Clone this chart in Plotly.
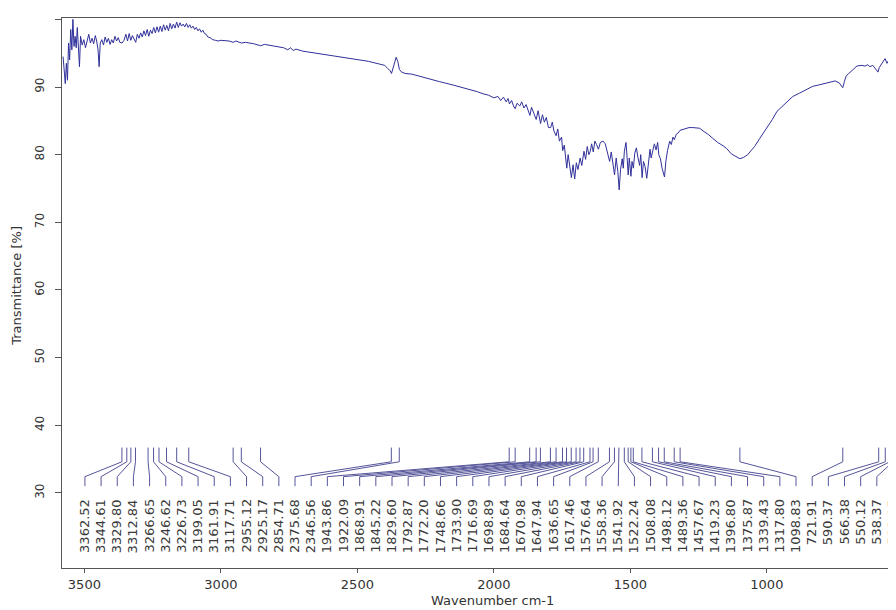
import plotly.graph_objects as go
import numpy as np

# ---- spectrum (wavenumber cm-1, transmittance %) ----
wavenumber = [3578, 3574, 3570, 3566, 3562, 3558, 3554, 3550, 3546, 3542, 3538, 3534, 3530, 3526, 3522, 3518, 3514,
              3508, 3502, 3496, 3490, 3484, 3478, 3472, 3466, 3460, 3455, 3450, 3446, 3442, 3436, 3430, 3424, 3418,
              3412, 3406, 3400, 3394, 3388, 3382, 3376, 3370, 3362, 3355, 3348, 3342, 3336, 3330, 3324, 3318, 3312,
              3306, 3300, 3294, 3288, 3282, 3276, 3270, 3264, 3258, 3252, 3246, 3240, 3234, 3228, 3222, 3216, 3210,
              3204, 3198, 3192, 3186, 3180, 3174, 3168, 3162, 3156, 3150, 3144, 3138, 3132, 3126, 3120, 3114, 3108,
              3102, 3096, 3090, 3084, 3078, 3072, 3066, 3060, 3054, 3048, 3040, 3030, 3020, 3010, 3000, 2990, 2970,
              2955, 2945, 2925, 2910, 2880, 2854, 2840, 2800, 2770, 2755, 2745, 2735, 2725, 2700, 2650, 2600, 2550,
              2500, 2460, 2420, 2400, 2390, 2380, 2375, 2366, 2358, 2352, 2346, 2338, 2325, 2300, 2250, 2200, 2150,
              2100, 2060, 2040, 2020, 2000, 1985, 1975, 1965, 1955, 1948, 1943, 1935, 1928, 1922, 1915, 1905, 1898,
              1890, 1882, 1875, 1868, 1862, 1855, 1845, 1838, 1829, 1822, 1815, 1808, 1800, 1792, 1786, 1780, 1772,
              1766, 1760, 1752, 1748, 1742, 1736, 1733, 1728, 1722, 1716, 1710, 1704, 1698, 1692, 1684, 1678, 1670,
              1664, 1658, 1652, 1647, 1642, 1636, 1630, 1624, 1617, 1610, 1600, 1592, 1585, 1576, 1570, 1564, 1558,
              1552, 1546, 1541, 1536, 1530, 1526, 1522, 1516, 1512, 1508, 1504, 1498, 1494, 1489, 1484, 1478, 1472,
              1466, 1462, 1457, 1452, 1446, 1440, 1434, 1428, 1424, 1419, 1412, 1406, 1400, 1396, 1390, 1384, 1379,
              1375, 1370, 1364, 1356, 1350, 1344, 1339, 1332, 1325, 1318, 1310, 1300, 1285, 1271, 1260, 1246, 1230,
              1215, 1198, 1180, 1160, 1147, 1130, 1115, 1099, 1085, 1070, 1062, 1045, 1026, 1000, 980, 963, 940,
              920, 905, 880, 860, 832, 810, 790, 770, 750, 735, 728, 722, 716, 710, 700, 690, 680, 670, 655, 640,
              630, 623, 612, 600, 593, 588, 580, 572, 567, 560, 553, 546, 540, 536, 532, 527]
transmittance = [94.5, 92.0, 90.5, 93.5, 91.0, 96.5, 94.0, 98.5, 95.5, 100.0, 96.0, 97.5, 95.8, 98.8, 95.0, 93.0, 97.5,
                 96.2, 97.0, 95.8, 96.8, 97.8, 96.5, 97.2, 96.4, 97.6, 96.8, 95.5, 93.0, 96.5, 97.0, 96.2, 97.4, 96.6,
                 97.2, 96.3, 97.0, 96.5, 97.5, 96.8, 97.3, 96.6, 96.5, 96.9, 97.8, 96.8, 97.9, 96.9, 97.6, 97.0, 96.6,
                 97.8, 97.2, 98.0, 97.4, 98.3, 97.6, 98.5, 97.5, 98.4, 97.9, 98.8, 98.0, 98.9, 98.1, 99.0, 98.2, 99.2,
                 98.4, 99.1, 98.3, 99.4, 98.6, 99.3, 98.7, 99.6, 98.8, 99.5, 99.0, 99.3, 98.9, 99.4, 98.8, 99.2, 98.7,
                 99.0, 98.5, 98.8, 98.3, 98.6, 98.1, 98.4, 97.9, 97.8, 97.4, 97.3, 97.0, 96.9, 96.8, 96.9, 96.9, 96.8,
                 96.6, 96.8, 96.5, 96.6, 96.4, 96.1, 96.3, 96.0, 95.8, 95.5, 95.8, 95.4, 95.6, 95.3, 95.0, 94.7, 94.4,
                 94.1, 93.8, 93.4, 93.2, 92.8, 92.4, 92.0, 93.2, 94.4, 93.8, 92.6, 92.2, 92.0, 91.9, 91.3, 90.8, 90.3,
                 89.8, 89.3, 89.0, 88.8, 88.4, 88.6, 88.0, 88.5, 87.8, 88.3, 87.5, 88.0, 87.2, 86.8, 87.6, 87.2, 87.8,
                 86.9, 87.4, 86.5, 85.8, 87.0, 86.2, 85.2, 86.5, 84.6, 85.9, 84.8, 85.5, 84.0, 84.0, 84.8, 83.5, 82.8,
                 83.8, 82.0, 82.6, 80.6, 81.4, 79.2, 78.0, 80.0, 78.2, 76.6, 78.5, 76.4, 78.8, 77.8, 79.5, 78.4, 80.5,
                 79.3, 81.2, 80.0, 80.5, 81.6, 80.4, 82.0, 81.5, 80.8, 81.8, 82.0, 81.6, 80.6, 79.0, 80.4, 78.2, 77.0,
                 79.5, 77.5, 74.8, 77.8, 79.4, 78.0, 80.5, 81.8, 79.6, 77.0, 79.5, 76.8, 79.0, 78.0, 80.2, 81.0, 79.5,
                 78.4, 80.0, 76.6, 79.0, 78.2, 76.5, 79.2, 80.8, 79.5, 80.4, 81.6, 80.7, 81.8, 80.0, 79.4, 78.0, 77.2,
                 76.7, 79.0, 80.6, 82.0, 81.5, 82.6, 82.2, 83.0, 83.2, 83.6, 83.7, 83.9, 84.0, 84.0, 84.0, 83.9, 83.4,
                 83.0, 82.4, 81.8, 81.3, 80.9, 80.1, 79.7, 79.4, 79.6, 80.0, 80.4, 81.2, 82.4, 83.9, 85.2, 86.4, 87.3,
                 88.0, 88.6, 89.1, 89.5, 90.1, 90.3, 90.5, 90.7, 90.9, 90.6, 90.3, 89.9, 90.8, 91.6, 92.0, 92.4, 92.8,
                 93.1, 93.2, 93.1, 93.3, 93.0, 93.2, 92.6, 92.2, 92.9, 93.4, 93.9, 94.2, 93.5, 94.0, 93.2, 93.6, 96.5,
                 94.0, 93.4]

# ---- peak picks ----
peak_labels = ["3362.52", "3344.61", "3329.80", "3312.84", "3266.65", "3246.62", "3226.73", "3199.05", "3161.91",
               "3117.71", "2955.12", "2925.17", "2854.71", "2375.68", "2346.56", "1943.86", "1922.09", "1868.91",
               "1845.22", "1829.60", "1792.87", "1772.20", "1748.66", "1733.90", "1716.69", "1698.89", "1684.64",
               "1670.98", "1647.94", "1636.65", "1617.46", "1576.64", "1558.36", "1541.92", "1522.24", "1508.08",
               "1498.12", "1489.36", "1457.67", "1419.23", "1396.80", "1375.87", "1339.43", "1317.80", "1098.83",
               "721.91", "590.37", "566.38", "550.12", "538.37", "523.15"]
peak_positions = [float(s) for s in peak_labels]

x_ticks = [3500, 3000, 2500, 2000, 1500, 1000]
y_ticks = [30, 40, 50, 60, 70, 80, 90, 100]

# label slots spread evenly along the axis
label_slots = np.linspace(3498, 538, len(peak_positions))

# connector levels (in % units)
y_top, y_bend1, y_bend2, y_bottom, y_text = 36.7, 34.6, 32.4, 31.0, 29.4

cx, cy = [], []
for p, s in zip(peak_positions, label_slots):
    cx += [p, p, s, s, None]
    cy += [y_top, y_bend1, y_bend2, y_bottom, None]

fig = go.Figure()
fig.add_trace(go.Scatter(x=cx, y=cy, mode="lines",
                         line=dict(color="#55559a", width=1), hoverinfo="skip", showlegend=False))
fig.add_trace(go.Scatter(x=wavenumber, y=transmittance, mode="lines",
                         line=dict(color="#30309a", width=1), showlegend=False))

annotations = []
for lab, s in zip(peak_labels, label_slots):
    annotations.append(dict(x=s, y=y_text, xref="x", yref="y", text=lab, showarrow=False,
                            textangle=-90, xanchor="center", yanchor="top",
                            font=dict(family="DejaVu Sans", size=13, color="#3a3a3a")))
annotations.append(dict(x=0.5156, y=-0.059, xref="paper", yref="paper", text="Wavenumber cm-1",
                        showarrow=False, xanchor="center", yanchor="middle",
                        font=dict(family="DejaVu Sans", size=13, color="#333")))
annotations.append(dict(x=-0.054, y=0.513, xref="paper", yref="paper", text="Transmittance [%]",
                        showarrow=False, textangle=-90, xanchor="center", yanchor="middle",
                        font=dict(family="DejaVu Sans", size=13, color="#333")))

# the page body adds an 8px offset, so the figure is sized to end at the window edge
fig.update_layout(
    width=888, height=602,
    margin=dict(l=54, r=0, t=10, b=42),
    paper_bgcolor="white", plot_bgcolor="white",
    annotations=annotations,
    xaxis=dict(range=[3582, 527], tickvals=x_ticks, ticktext=[str(v) for v in x_ticks],
               showgrid=False, zeroline=False, showline=True, linecolor="#555", linewidth=1,
               mirror=True, ticks="outside", ticklen=4, tickcolor="#555",
               tickfont=dict(family="DejaVu Sans", size=13, color="#333")),
    yaxis=dict(range=[18.9, 100.2], tickvals=y_ticks, ticktext=[str(v) for v in y_ticks],
               showgrid=False, zeroline=False, showline=True, linecolor="#555", linewidth=1,
               ticks="outside", ticklen=6, tickcolor="#555", tickangle=-90, ticklabelstandoff=6,
               tickfont=dict(family="DejaVu Sans", size=12, color="#333")),
)

fig.write_html("out.html")
